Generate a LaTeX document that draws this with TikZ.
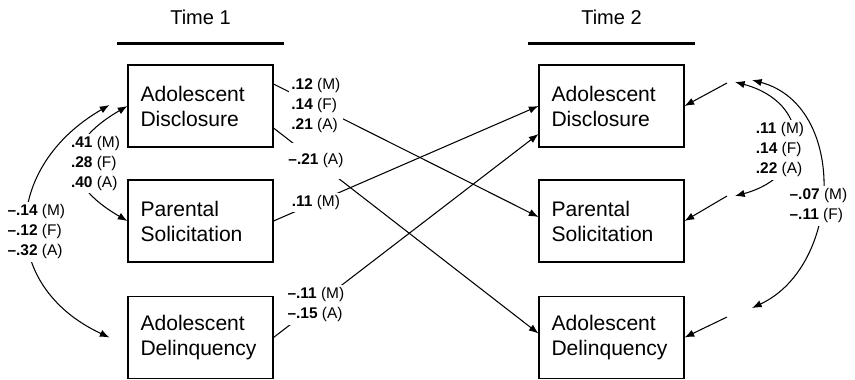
\documentclass[tikz,border=0pt]{standalone}
\usepackage{fontspec}
\setmainfont{Liberation Sans}
\usetikzlibrary{positioning,calc,arrows.meta}

\begin{document}
\begin{tikzpicture}[x=0.02cm,y=0.02cm]
    \tikzstyle{var}=[draw, line width=0.6pt, minimum width=2.9cm, minimum height=1.64cm, text width=2.4cm, align=left, font=\fontsize{12}{14.2}\selectfont]
    \tikzstyle{coef}=[fill=white, inner sep=1.5pt, align=left, font=\fontsize{8.8}{11.4}\selectfont]
    \tikzstyle{wave}=[font=\fontsize{11.4}{13}\selectfont]
    \tikzstyle{effect}=[line width=0.6pt, -{Latex[length=5.5pt,width=4.2pt]}]
    \tikzstyle{cov}=[line width=0.6pt, {Latex[length=5.5pt,width=4.2pt]}-{Latex[length=5.5pt,width=4.2pt]}]

    \useasboundingbox (0,0) rectangle (855,-379);

    % time 1
    \node[var] (ad1) at (200.5,-106) {Adolescent\\Disclosure};
    \node[var] (ps1) at (200.5,-221) {Parental\\Solicitation};
    \node[var] (dl1) at (200.5,-337.5) {Adolescent\\Delinquency};
    % time 2
    \node[var] (ad2) at (611.5,-106) {Adolescent\\Disclosure};
    \node[var] (ps2) at (611.5,-221) {Parental\\Solicitation};
    \node[var] (dl2) at (611.5,-337.5) {Adolescent\\Delinquency};

    \node[wave] (t1) at (200.5,-17) {Time 1};
    \node[wave] (t2) at (611.5,-17) {Time 2};
    \draw[line width=1.4pt] ($(ad1.north west)+(-10,21)$) -- ($(ad1.north east)+(10,21)$);
    \draw[line width=1.4pt] ($(ad2.north west)+(-10,21)$) -- ($(ad2.north east)+(10,21)$);

    % cross-lagged paths
    \draw[effect] ($(ad1.east)+(0,22)$) -- node[coef, pos=0.16] {\textbf{.12} (M)\\\textbf{.14} (F)\\\textbf{.21} (A)} ($(ps2.west)+(0,4)$);
    \draw[effect] ($(ad1.east)+(0,-22)$) -- node[coef, pos=0.16, inner ysep=6pt] {\textbf{--.21} (A)} ($(dl2.west)+(0,4)$);
    \draw[effect] (ps1.east) -- node[coef, pos=0.16] {\textbf{.11} (M)} (ad2.west);
    \draw[effect] (dl1.east) -- node[coef, pos=0.16] {\textbf{--.11} (M)\\\textbf{--.15} (A)} ($(ad2.west)+(0,-28)$);

    % correlations at time 1
    \draw[cov] (ad1.west) to[out=-150, in=150, looseness=1.7] node[coef, pos=0.5, xshift=10pt] {\textbf{.41} (M)\\\textbf{.28} (F)\\\textbf{.40} (A)} (ps1.west);
    \draw[cov] ($(ad1.west)+(-18,1)$) to[out=-150, in=155, looseness=1.36] node[coef, pos=0.5, xshift=5pt, yshift=-4pt] {\textbf{--.14} (M)\\\textbf{--.12} (F)\\\textbf{--.32} (A)} ($(dl1.west)+(-18,0)$);

    % residuals at time 2
    \coordinate (e1) at (727,-83);
    \coordinate (e2) at (727,-196);
    \coordinate (e3) at (727,-317);
    \draw[effect] (e1) -- (ad2.east);
    \draw[effect] (e2) -- (ps2.east);
    \draw[effect] (e3) -- (dl2.east);
    \draw[cov] ($(e1)+(8,1)$) to[out=-15, in=15, looseness=1.8] node[coef, pos=0.5, xshift=-7.4pt, yshift=-6.2pt] {\textbf{.11} (M)\\\textbf{.14} (F)\\\textbf{.22} (A)} ($(e2)+(8,0)$);
    \draw[cov] ($(e1)+(25,3)$) to[out=-15, in=25, looseness=1.12] node[coef, pos=0.5, xshift=-2pt, yshift=-10.2pt] {\textbf{--.07} (M)\\\textbf{--.11} (F)} ($(e3)+(25,9)$);
\end{tikzpicture}
\end{document}
